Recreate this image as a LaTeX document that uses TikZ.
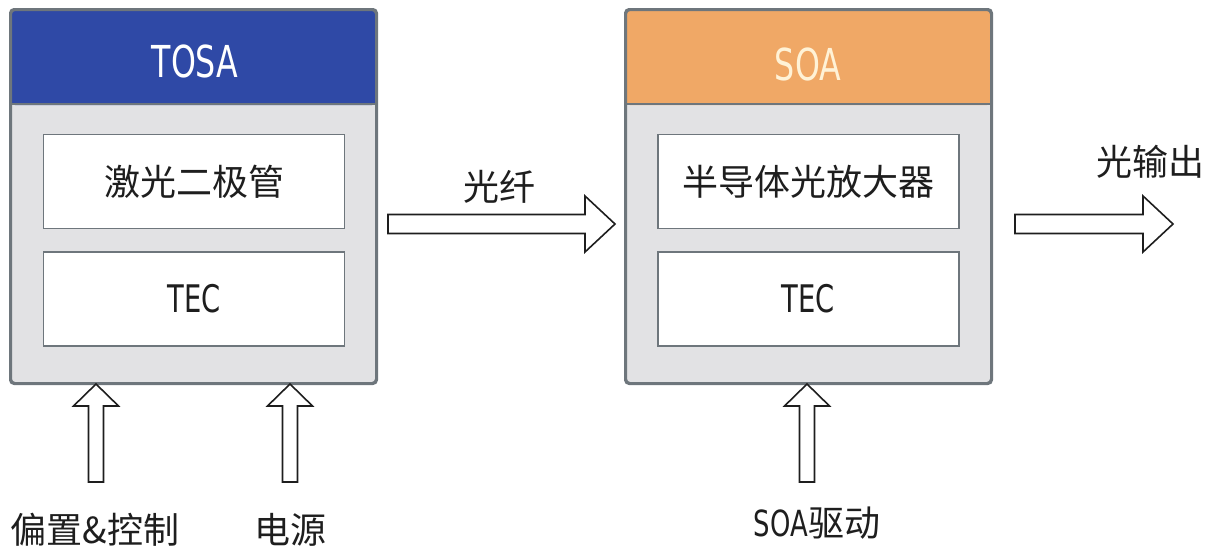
\documentclass[tikz,border=0pt]{standalone}
\usepackage{fontspec}
\usetikzlibrary{calc}
\newfontfamily\cjk{Noto Sans CJK SC}
\newfontfamily\lat[FakeStretch=0.72]{DejaVu Sans}
\definecolor{hblue}{RGB}{47,73,166}
\definecolor{horange}{RGB}{240,168,102}
\definecolor{bodygray}{RGB}{226,226,228}
\definecolor{edge}{RGB}{110,118,124}
\definecolor{ink}{RGB}{30,30,30}
\definecolor{cream}{RGB}{255,242,214}
\newcommand\hblock[2]{\draw[barrow] let \p1=(#1), \p2=(#2) in
  (\x1,\y1+9.5pt) -- (\x2-30pt,\y1+9.5pt) -- (\x2-30pt,\y1+28pt) -- (\x2,\y1)
  -- (\x2-30pt,\y1-28pt) -- (\x2-30pt,\y1-9.5pt) -- (\x1,\y1-9.5pt) -- cycle;}
\newcommand\vblock[2]{\draw[barrow] let \p1=(#1), \p2=(#2) in
  (\x1-7.5pt,\y1) -- (\x1-7.5pt,\y2-22pt) -- (\x1-22.5pt,\y2-22pt) -- (\x2,\y2)
  -- (\x1+22.5pt,\y2-22pt) -- (\x1+7.5pt,\y2-22pt) -- (\x1+7.5pt,\y1) -- cycle;}
\begin{document}
\begin{tikzpicture}[x=1pt,y=-1pt,
  outerbox/.style={draw=edge,line width=2pt,fill=bodygray,rounded corners=4pt,
    minimum width=365pt,minimum height=373pt,inner sep=0pt},
  innerbox/.style={draw=edge,line width=1.6pt,fill=white,
    minimum width=301pt,minimum height=94pt,inner sep=0pt,text=ink},
  hdrtext/.style={font=\lat\fontsize{44}{48}\selectfont},
  cntext/.style={font=\cjk\fontsize{36}{40}\selectfont,text=ink},
  tectext/.style={font=\lat\fontsize{38}{42}\selectfont},
  barrow/.style={draw=ink,line width=1.6pt,fill=white,line join=miter},
  sep/.style={draw=edge,line width=1.2pt}]
\useasboundingbox (0,0) rectangle (1217,549);
% TOSA block
\node[outerbox,path picture={\fill[hblue] (path picture bounding box.north west)
   rectangle ([yshift=-95pt]path picture bounding box.north east);}] (tosa) at (193.5,196.5) {};
\draw[sep] ($(tosa.north west)+(1,95)$) -- ($(tosa.north east)+(-1,95)$);
\draw[draw=edge,line width=2pt,rounded corners=4pt] (tosa.south west) rectangle (tosa.north east);
\node[hdrtext,text=white] (tosah) at (195,61) {TOSA};
\node[innerbox,cntext] (ld) at (194,181.5) {激光二极管};
\node[innerbox] (tec1) at (194,299) {\lat\fontsize{38}{42}\selectfont TEC};
% SOA block
\node[outerbox,path picture={\fill[horange] (path picture bounding box.north west)
   rectangle ([yshift=-95pt]path picture bounding box.north east);}] (soa) at (808.5,196.5) {};
\draw[sep] ($(soa.north west)+(1,95)$) -- ($(soa.north east)+(-1,95)$);
\draw[draw=edge,line width=2pt,rounded corners=4pt] (soa.south west) rectangle (soa.north east);
\node[hdrtext,text=cream] (soah) at (808,64) {SOA};
\node[innerbox,cntext] (amp) at (808.5,181.5) {半导体光放大器};
\node[innerbox] (tec2) at (808.5,299) {\lat\fontsize{38}{42}\selectfont TEC};
% labels
\node[cntext] (fiber) at (499,187) {光纤};
\node[cntext] (out) at (1150,162) {光输出};
\node[cntext] (bias) at (95,530) {偏置\&控制};
\node[cntext] (pwr) at (290,530) {电源};
\node[cntext] (drv) at (817,523) {{\lat SOA}驱动};
% connectors
\coordinate (f0) at (388,224);
\coordinate (f1) at (615,224);
\hblock{f0}{f1}
\coordinate (o0) at (1015,224);
\coordinate (o1) at (1173,224);
\hblock{o0}{o1}
\coordinate (b0) at (96,482);
\vblock{b0}{b0 |- tosa.south}
\coordinate (p0) at (290,482);
\vblock{p0}{p0 |- tosa.south}
\coordinate (d0) at (807,482);
\vblock{d0}{d0 |- soa.south}
\end{tikzpicture}
\end{document}
